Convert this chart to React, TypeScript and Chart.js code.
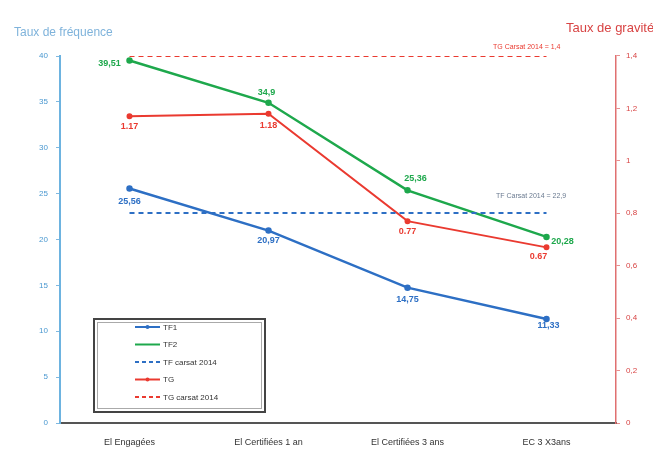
import React, { useEffect, useRef } from "react";
import { Chart, registerables } from "chart.js";

Chart.register(...registerables);

const categories = ["El Engagées", "El Certifiées 1 an", "El Certifiées 3 ans", "EC 3 X3ans"];
const tf1 = [25.56, 20.97, 14.75, 11.33];
const tf2 = [39.51, 34.9, 25.36, 20.28];
const tfCarsat = [22.9, 22.9, 22.9, 22.9];
const tg = [1.17, 1.18, 0.77, 0.67];
const tgCarsat = [1.4, 1.4, 1.4, 1.4];
const leftTicks = [0, 5, 10, 15, 20, 25, 30, 35, 40];
const rightTicks = ["0", "0,2", "0,4", "0,6", "0,8", "1", "1,2", "1,4"];

const tf1Labels = ["25,56", "20,97", "14,75", "11,33"];
const tf2Labels = ["39,51", "34,9", "25,36", "20,28"];
const tgLabels = ["1.17", "1.18", "0.77", "0.67"];

const BLUE = "#2d6fc4";
const GREEN = "#1ea84c";
const RED = "#ea3a30";
const FONT = "'Liberation Sans', Arial, sans-serif";

// label offsets (dx, dy, align) per point
const labelPos: Record<string, [number, number, CanvasTextAlign][]> = {
  TF1: [[0, 13, "center"], [0, 10, "center"], [0, 12, "center"], [2, 6, "center"]],
  TF2: [[-20, 3, "center"], [-2, -10, "center"], [8, -12, "center"], [16, 5, "center"]],
  TG: [[0, 10, "center"], [0, 12, "center"], [0, 10, "center"], [-8, 9, "center"]],
};

export default function App() {
  const ref = useRef<HTMLCanvasElement>(null);
  useEffect(() => {
    document.body.style.margin = "0";
    document.body.style.background = "#ffffff";
    const ctx = ref.current!;
    const overlay = {
      id: "overlay",
      afterDatasetsDraw(chart: any) {
        const c = chart.ctx as CanvasRenderingContext2D;
        c.save();
        // data labels
        const lbls: Record<string, string[]> = { TF1: tf1Labels, TF2: tf2Labels, TG: tgLabels };
        chart.data.datasets.forEach((ds: any, i: number) => {
          const key = ds.label === "TF 1" ? "TF1" : ds.label === "TF2" ? "TF2" : ds.label === "TG" ? "TG" : null;
          if (!key) return;
          const meta = chart.getDatasetMeta(i);
          c.font = `600 9px ${FONT}`;
          c.fillStyle = ds.borderColor;
          c.textBaseline = "middle";
          meta.data.forEach((pt: any, j: number) => {
            const [dx, dy, al] = labelPos[key][j];
            c.textAlign = al;
            c.fillText(lbls[key][j], pt.x + dx, pt.y + dy);
          });
        });
        // annotations
        c.font = `7px ${FONT}`;
        c.textAlign = "left";
        c.fillStyle = "#6a7a90";
        c.fillText("TF Carsat 2014 = 22,9", 496, 196);
        c.fillStyle = RED;
        c.fillText("TG Carsat 2014 = 1,4", 493, 47);
        // titles
        c.font = `12px ${FONT}`;
        c.fillStyle = "#7fb3db";
        c.fillText("Taux de fréquence", 14, 33);
        c.font = `13px ${FONT}`;
        c.fillStyle = "#d84444";
        c.fillText("Taux de gravité", 566, 28);
        // legend
        c.strokeStyle = "#444";
        c.lineWidth = 2;
        c.strokeRect(94, 319, 171, 93);
        c.strokeStyle = "#aaa";
        c.lineWidth = 1;
        c.strokeRect(97.5, 322.5, 164, 86);
        const items: [string, string, boolean, boolean][] = [
          ["TF1", BLUE, false, true],
          ["TF2", GREEN, false, false],
          ["TF carsat 2014", BLUE, true, false],
          ["TG", RED, false, true],
          ["TG carsat 2014", RED, true, false],
        ];
        items.forEach(([t, col, dash, pt], k) => {
          const y = 327 + k * 17.5;
          c.strokeStyle = col;
          c.lineWidth = 2;
          c.setLineDash(dash ? [4, 3] : []);
          c.beginPath();
          c.moveTo(135, y);
          c.lineTo(160, y);
          c.stroke();
          c.setLineDash([]);
          if (pt) {
            c.fillStyle = col;
            c.beginPath();
            c.arc(147.5, y, 2, 0, Math.PI * 2);
            c.fill();
          }
          c.fillStyle = "#333";
          c.font = `8px ${FONT}`;
          c.textAlign = "left";
          c.textBaseline = "middle";
          c.fillText(t, 163, y + 0.5);
        });
        c.restore();
      },
    };
    const chart = new Chart(ctx, {
      type: "line",
      data: {
        labels: categories,
        datasets: [
          { label: "TG carsat 2014", data: tgCarsat, yAxisID: "y1", borderColor: RED, borderWidth: 2, borderDash: [5, 4], pointRadius: 0 },
          { label: "TF carsat 2014", data: tfCarsat, yAxisID: "y", borderColor: BLUE, borderWidth: 2, borderDash: [5, 4], pointRadius: 0 },
          { label: "TF 1", data: tf1, yAxisID: "y", borderColor: BLUE, backgroundColor: BLUE, borderWidth: 2.5, pointRadius: 2 },
          { label: "TF2", data: tf2, yAxisID: "y", borderColor: GREEN, backgroundColor: GREEN, borderWidth: 2.5, pointRadius: 2 },
          { label: "TG", data: tg, yAxisID: "y1", borderColor: RED, backgroundColor: RED, borderWidth: 2, pointRadius: 2 },
        ],
      },
      options: {
        animation: false,
        responsive: false,
        devicePixelRatio: 1,
        layout: { padding: { top: 56, left: 0, right: 0, bottom: 0 } },
        plugins: { legend: { display: false }, tooltip: { enabled: false } },
        scales: {
          x: {
            offset: true,
            grid: { display: false },
            border: { color: "#555", width: 2 },
            ticks: { color: "#333", font: { family: FONT, size: 9 }, padding: 6 },
            afterFit: (s: any) => { s.height = 37; },
          },
          y: {
            position: "left",
            min: 0,
            max: 40,
            afterBuildTicks: (s: any) => { s.ticks = leftTicks.map((v) => ({ value: v })); },
            grid: { drawOnChartArea: false, drawTicks: true, tickLength: 4, color: "#7fb8e0" },
            border: { color: "#6db3e0", width: 2 },
            ticks: { color: "#4a98d0", font: { family: FONT, size: 8 }, padding: 8 },
            afterFit: (s: any) => { s.width = 60; },
          },
          y1: {
            position: "right",
            min: 0,
            max: 1.4,
            afterBuildTicks: (s: any) => { s.ticks = rightTicks.map((_, i) => ({ value: i * 0.2 })); },
            grid: { drawOnChartArea: false, drawTicks: true, tickLength: 4, color: "#e89090" },
            border: { color: "#e07070", width: 1.5 },
            ticks: {
              color: "#d84444",
              font: { family: FONT, size: 8 },
              padding: 6,
              callback: (_v: any, i: number) => rightTicks[i],
            },
            afterFit: (s: any) => { s.width = 37; },
          },
        },
      },
      plugins: [overlay],
    } as any);
    return () => chart.destroy();
  }, []);
  return <canvas ref={ref} width={653} height={460} style={{ display: "block", width: 653, height: 460 }} />;
}
